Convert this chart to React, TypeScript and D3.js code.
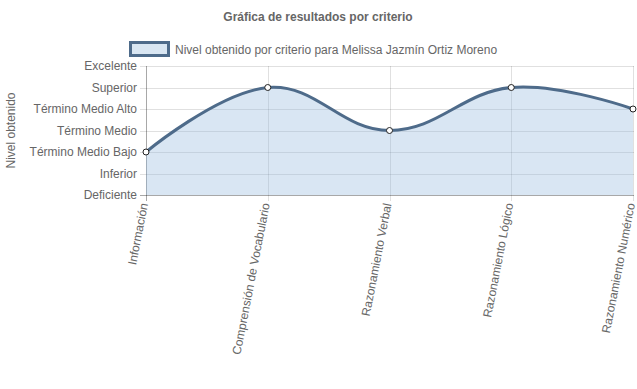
import React, { useRef, useEffect } from "react";
import * as d3 from "d3";

const levels = ["Deficiente", "Inferior", "Término Medio Bajo", "Término Medio", "Término Medio Alto", "Superior", "Excelente"];
const criteria = ["Información", "Comprensión de Vocabulario", "Razonamiento Verbal", "Razonamiento Lógico", "Razonamiento Numérico"];
const scores = [3, 6, 4, 6, 5];

const title = "Gráfica de resultados por criterio";
const seriesName = "Nivel obtenido por criterio para Melissa Jazmín Ortiz Moreno";
const yTitle = "Nivel obtenido";

export default function App() {
  const svgRef = useRef<SVGSVGElement>(null);

  useEffect(() => {
    const svg = d3.select(svgRef.current);
    svg.selectAll("*").remove();

    const width = 637;
    const height = 389;
    const left = 146, right = 633, top = 66, bottom = 195;
    const font = "'Helvetica Neue', Helvetica, Arial, 'Liberation Sans', sans-serif";
    const textColor = "#666";
    const lineColor = "#4e6b8a";
    const fillColor = "rgba(151,187,222,0.36)";

    svg.attr("width", width).attr("height", height).style("font-family", font);

    const x = d3.scalePoint<string>().domain(criteria).range([left, right]);
    const y = d3.scaleLinear().domain([1, 7]).range([bottom, top]);

    // title
    svg.append("text")
      .attr("x", 318).attr("y", 21)
      .attr("text-anchor", "middle")
      .attr("font-size", 12).attr("font-weight", "bold")
      .attr("fill", textColor)
      .text(title);

    // legend
    svg.append("rect")
      .attr("x", 130.5).attr("y", 42.5).attr("width", 38).attr("height", 13)
      .attr("fill", "#d9e6f2").attr("stroke", lineColor).attr("stroke-width", 3);
    svg.append("text")
      .attr("x", 175).attr("y", 53.5)
      .attr("font-size", 12).attr("fill", textColor)
      .text(seriesName);

    // y axis title
    svg.append("text")
      .attr("transform", `translate(15,${(top + bottom) / 2}) rotate(-90)`)
      .attr("text-anchor", "middle")
      .attr("font-size", 12).attr("fill", textColor)
      .text(yTitle);

    // grid
    const grid = svg.append("g").attr("stroke", "rgba(0,0,0,0.12)").attr("stroke-width", 1);
    d3.range(1, 8).forEach(v => {
      grid.append("line")
        .attr("x1", left - 6).attr("x2", right + 1)
        .attr("y1", Math.round(y(v)) + 0.5).attr("y2", Math.round(y(v)) + 0.5);
    });
    criteria.forEach(c => {
      grid.append("line")
        .attr("x1", Math.round(x(c)!) + 0.5).attr("x2", Math.round(x(c)!) + 0.5)
        .attr("y1", top).attr("y2", bottom + 6);
    });
    // axis lines
    svg.append("line")
      .attr("x1", left + 0.5).attr("x2", left + 0.5).attr("y1", top).attr("y2", bottom + 6)
      .attr("stroke", "rgba(0,0,0,0.25)");
    svg.append("line")
      .attr("x1", left - 6).attr("x2", right + 1).attr("y1", bottom + 0.5).attr("y2", bottom + 0.5)
      .attr("stroke", "rgba(0,0,0,0.25)");

    // y tick labels
    levels.forEach((l, i) => {
      svg.append("text")
        .attr("x", left - 9).attr("y", y(i + 1)).attr("dy", "0.35em")
        .attr("text-anchor", "end")
        .attr("font-size", 12).attr("fill", textColor)
        .text(l);
    });

    // x tick labels
    criteria.forEach(c => {
      svg.append("text")
        .attr("transform", `translate(${x(c)! + 2},${bottom + 9}) rotate(-79)`)
        .attr("text-anchor", "end")
        .attr("font-size", 12).attr("fill", textColor)
        .text(c);
    });

    const curve = d3.curveCardinal.tension(-0.2);

    const area = d3.area<number>()
      .x((d, i) => x(criteria[i])!)
      .y0(bottom)
      .y1(d => y(d))
      .curve(curve);

    const line = d3.line<number>()
      .x((d, i) => x(criteria[i])!)
      .y(d => y(d))
      .curve(curve);

    svg.append("path")
      .datum(scores)
      .attr("d", area)
      .attr("fill", fillColor);

    svg.append("path")
      .datum(scores)
      .attr("d", line)
      .attr("fill", "none")
      .attr("stroke", lineColor)
      .attr("stroke-width", 3);

    svg.selectAll(".pt")
      .data(scores)
      .join("circle")
      .attr("class", "pt")
      .attr("cx", (d, i) => x(criteria[i])!)
      .attr("cy", d => y(d))
      .attr("r", 3)
      .attr("fill", "#fff")
      .attr("stroke", "#222")
      .attr("stroke-width", 1);
  }, []);

  return (
    <div style={{ position: "absolute", left: 0, top: 0 }}>
      <svg ref={svgRef} style={{ display: "block" }}></svg>
    </div>
  );
}
